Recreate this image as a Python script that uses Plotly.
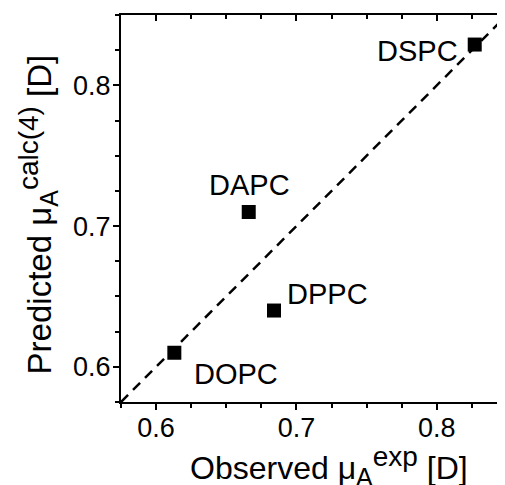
import plotly.graph_objects as go

# Data
lipids = ["DOPC", "DAPC", "DPPC", "DSPC"]
observed = [0.613, 0.666, 0.684, 0.827]
predicted = [0.610, 0.710, 0.640, 0.829]
identity_line = [0.575, 0.85]
tick_vals = [0.6, 0.7, 0.8]
tick_text = ["0.6", "0.7", "0.8"]

# label offsets (pixels) relative to each point
label_dx = [62, 1, 53, -57]
label_dy = [-21, 27, 17, -6]

FONT = "Liberation Sans, Arial, sans-serif"
xr = [0.575, 0.85]
yr = [0.575, 0.85]

fig = go.Figure()
fig.add_trace(go.Scatter(x=identity_line, y=identity_line, mode="lines",
                         line=dict(color="black", width=2.5, dash="10px,7px"),
                         showlegend=False, hoverinfo="skip"))
fig.add_trace(go.Scatter(x=observed, y=predicted, mode="markers",
                         marker=dict(symbol="square", size=14, color="black"),
                         showlegend=False))
fig.add_trace(go.Scatter(x=[None], y=[None], xaxis="x2", yaxis="y2",
                         showlegend=False, hoverinfo="skip"))

for name, xo, yo, dx, dy in zip(lipids, observed, predicted, label_dx, label_dy):
    fig.add_annotation(x=xo, y=yo, xref="x", yref="y", text=name, showarrow=False,
                       xshift=dx, yshift=dy, font=dict(family=FONT, size=29, color="black"))

SUB = '<span style="font-size:25px">'
SUP = '<span style="font-size:28px">'
fig.add_annotation(text=f"Observed μ<sub>{SUB}A</span></sub><sup>{SUP}exp</span></sup> [D]",
                   xref="paper", yref="paper",
                   x=0.539, y=-0.235, xanchor="center", yanchor="bottom", showarrow=False,
                   font=dict(family=FONT, size=32, color="black"))
fig.add_annotation(text=f"Predicted μ<sub>{SUB}A</span></sub><sup>{SUP}calc(4)</span></sup> [D]",
                   xref="paper", yref="paper",
                   x=-0.285, y=0.486, xanchor="left", yanchor="middle", textangle=-90, showarrow=False,
                   font=dict(family=FONT, size=33, color="black"))

common = dict(showgrid=False, zeroline=False, linecolor="black", linewidth=2,
              tickcolor="black", tickwidth=2, tickfont=dict(family=FONT, size=27, color="black"))

fig.update_layout(
    width=505, height=485,
    margin=dict(l=113, r=6, t=7, b=91),
    paper_bgcolor="white", plot_bgcolor="white",
    xaxis=dict(range=xr, showline=True, ticks="outside", ticklen=6, ticklabelstandoff=-5,
               tickvals=tick_vals, ticktext=tick_text,
               minor=dict(dtick=0.025, tick0=0.575, ticks="outside", ticklen=4, tickwidth=2, tickcolor="black"),
               **common),
    yaxis=dict(range=yr, showline=True, ticks="outside", ticklen=6, ticklabelstandoff=-3,
               tickvals=tick_vals, ticktext=tick_text,
               minor=dict(dtick=0.025, tick0=0.575, ticks="outside", ticklen=4, tickwidth=2, tickcolor="black"),
               **common),
    xaxis2=dict(range=xr, overlaying="x", side="top", anchor="y", showline=True, ticks="inside",
                ticklen=6, tickvals=tick_vals, showticklabels=False,
                minor=dict(dtick=0.025, tick0=0.575, ticks="inside", ticklen=4, tickwidth=2, tickcolor="black"),
                **common),
    yaxis2=dict(range=yr, overlaying="y", side="right", anchor="x", showline=True, ticks="inside",
                ticklen=6, tickvals=tick_vals, showticklabels=False,
                minor=dict(dtick=0.025, tick0=0.575, ticks="inside", ticklen=4, tickwidth=2, tickcolor="black"),
                **common),
)

fig.write_html("out.html")
